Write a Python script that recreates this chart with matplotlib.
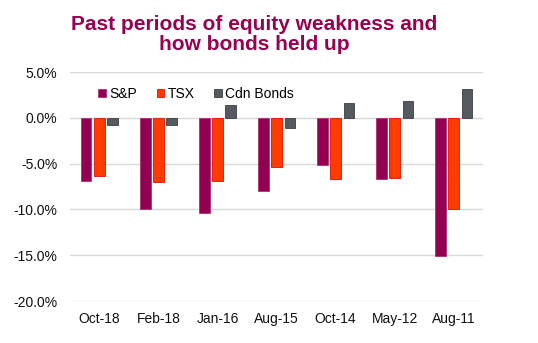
import numpy as np
import matplotlib.pyplot as plt
from matplotlib.ticker import FuncFormatter

# Returns during each equity drawdown window (%)
periods = ["Oct-18", "Feb-18", "Jan-16", "Aug-15", "Oct-14", "May-12", "Aug-11"]
sp500 = [-6.9, -10.0, -10.4, -8.0, -5.2, -6.7, -15.1]
tsx = [-6.4, -7.0, -6.9, -5.4, -6.7, -6.6, -9.9]
cdn_bonds = [-0.8, -0.8, 1.4, -1.1, 1.6, 1.8, 3.2]

plt.rcParams['font.family'] = ['Liberation Sans', 'DejaVu Sans']

fig = plt.figure(figsize=(5.38, 3.43), dpi=100)
ax = fig.add_axes([0.13, 0.1224, 0.768, 0.6676])

x = np.arange(len(periods))
w = 0.18
gap = 0.225
ax.bar(x - gap, sp500, w, color="#930052", edgecolor="#b0306f", linewidth=0.6, label="S&P", zorder=3)
ax.bar(x, tsx, w, color="#ff3b00", edgecolor="#e01000", linewidth=0.6, label="TSX", zorder=3)
ax.bar(x + gap, cdn_bonds, w, color="#555a61", edgecolor="#3a3d42", linewidth=0.6, label="Cdn Bonds", zorder=3)

ax.set_xlim(-0.5, len(periods) - 0.5)
ax.set_ylim(-20, 5)
ax.set_yticks(np.arange(-20, 5.1, 5))
ax.yaxis.set_major_formatter(FuncFormatter(lambda v, p: f"{v:.1f}%"))
ax.set_xticks(x)
ax.set_xticklabels(periods)
ax.tick_params(axis="both", length=0, labelsize=10, colors="#111111")
ax.tick_params(axis="x", pad=8)
ax.tick_params(axis="y", pad=9)
ax.grid(axis="y", color="#d9d9d9", linewidth=1.0, zorder=0)
for s in ax.spines.values():
    s.set_visible(False)

ax.legend(loc="center left", bbox_to_anchor=(0.055, 0.905), ncol=3, frameon=False,
          fontsize=10, handlelength=0.55, handleheight=0.55, handletextpad=0.25,
          columnspacing=1.4, borderaxespad=0)

fig.text(0.472, 0.955, "Past periods of equity weakness and\nhow bonds held up",
         ha="center", va="top", fontsize=15, fontweight="bold", color="#99004f",
         linespacing=1.05)

fig.savefig("out.png", dpi=100)
